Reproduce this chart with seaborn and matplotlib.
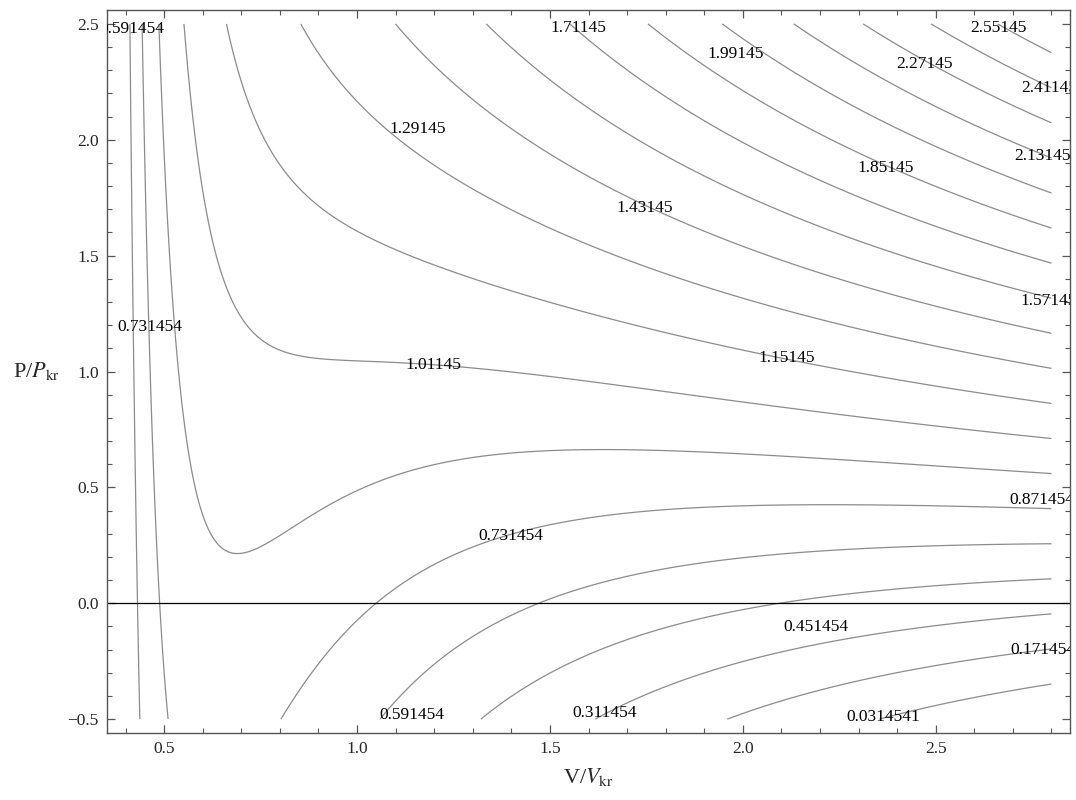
import numpy as np
import matplotlib
matplotlib.use("Agg")
import matplotlib.pyplot as plt
import seaborn as sns
from matplotlib.ticker import MultipleLocator

# isotherm levels (reduced temperature) as labelled in the picture
levels = [0.0314541, 0.171454, 0.311454, 0.451454, 0.591454, 0.731454,
          0.871454, 1.01145, 1.15145, 1.29145, 1.43145, 1.57145, 1.71145,
          1.85145, 1.99145, 2.13145, 2.27145, 2.41145, 2.55145]

# plotted region of the reduced volume / pressure
v_range = [0.4, 2.8]
p_range = [-0.5, 2.5]

# which level is labelled where (label value, reduced V, reduced P)
label_values = [0.591454, 0.731454, 1.29145, 1.71145, 1.99145, 2.27145,
                2.55145, 2.41145, 2.13145, 1.85145, 1.43145, 1.57145,
                1.15145, 1.01145, 0.871454, 0.731454, 0.451454, 0.171454,
                0.591454, 0.311454, 0.0314541]
label_pos = [(0.417, 2.48), (0.462, 1.194), (1.158, 2.047), (1.575, 2.483),
             (1.982, 2.371), (2.471, 2.328), (2.663, 2.483), (2.793, 2.224),
             (2.778, 1.931), (2.370, 1.879), (1.746, 1.707), (2.792, 1.306),
             (2.114, 1.060), (1.197, 1.026), (2.775, 0.444), (1.399, 0.289),
             (2.189, -0.103), (2.778, -0.203), (1.142, -0.483), (1.642, -0.474),
             (2.363, -0.491)]


# reduced van der Waals equation of state -> temperature
def vdw_temperature(v, p):
    return (p + 3.0 / v**2) * (3.0 * v - 1.0) / 8.0


sns.set_style("ticks")
plt.rcParams['font.family'] = ['Liberation Serif', 'DejaVu Serif']
plt.rcParams['mathtext.fontset'] = 'stix'

fig = plt.figure(figsize=(10.76, 8.0), dpi=100)
ax = fig.add_axes([107 / 1076, 1 - 733 / 800, (1070 - 107) / 1076, (733 - 10) / 800])

V, P = np.meshgrid(np.linspace(v_range[0], v_range[1], 700),
                   np.linspace(p_range[0], p_range[1], 700))
T = vdw_temperature(V, P)
ax.contour(V, P, T, levels=levels, colors='#8c8c8c', linewidths=0.9)

ax.axhline(0, color='black', lw=0.9)

# labels sit on the lines, clipped at the frame like in the original
for val, (x, y) in zip(label_values, label_pos):
    ax.text(x, y, '%.6g' % val, ha='center', va='center', fontsize=12.5,
            color='black', clip_on=True, zorder=5)

# padding like Mathematica (2% each side)
dx = 0.02 * (v_range[1] - v_range[0])
dy = 0.02 * (p_range[1] - p_range[0])
ax.set_xlim(v_range[0] - dx, v_range[1] + dx)
ax.set_ylim(p_range[0] - dy, p_range[1] + dy)

ax.xaxis.set_major_locator(MultipleLocator(0.5))
ax.xaxis.set_minor_locator(MultipleLocator(0.1))
ax.yaxis.set_major_locator(MultipleLocator(0.5))
ax.yaxis.set_minor_locator(MultipleLocator(0.1))
ax.xaxis.set_major_formatter(lambda v, pos: f"{v:.1f}".replace('-', '\u2212'))
ax.yaxis.set_major_formatter(lambda v, pos: f"{v:.1f}".replace('-', '\u2212'))

ax.tick_params(which='both', direction='in', top=True, right=True,
               color='#555555', labelsize=12.5, pad=6)
ax.tick_params(which='major', length=6, width=0.9)
ax.tick_params(which='minor', length=3.5, width=0.8)
for s in ax.spines.values():
    s.set_color('#555555')
    s.set_linewidth(1.0)

ax.set_xlabel(r"V/$V_{\mathrm{kr}}$", fontsize=16, labelpad=6)
ax.set_ylabel(r"P/$P_{\mathrm{kr}}$", fontsize=16, rotation=0, labelpad=22, va='center')

fig.savefig("out.png", dpi=100)
